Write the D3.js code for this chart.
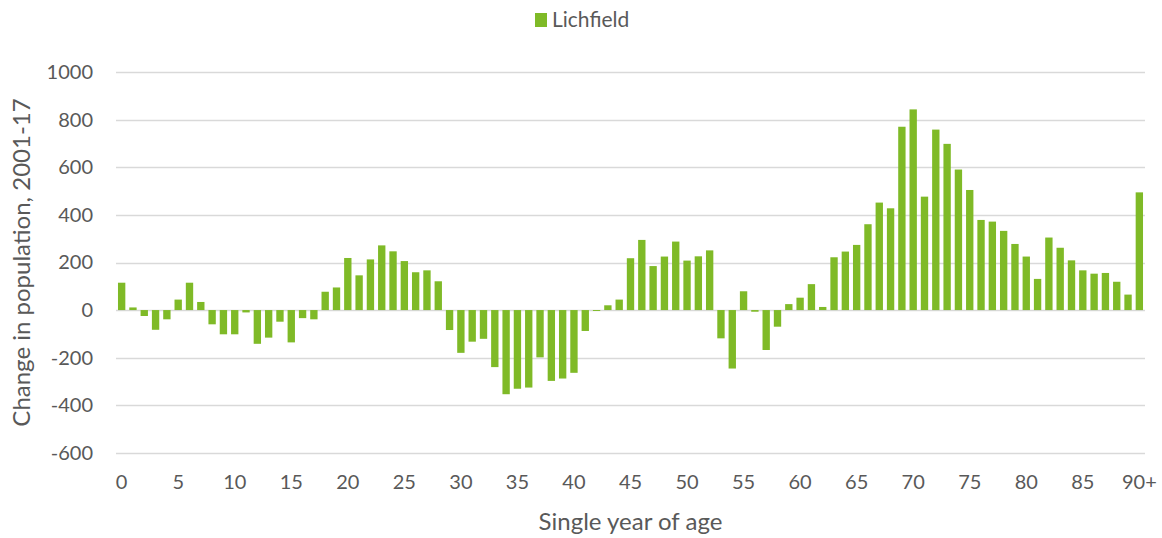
<!DOCTYPE html>
<html>
<head>
<meta charset="utf-8">
<script src="https://cdn.jsdelivr.net/npm/d3@7"></script>
<style>
  body { margin: 0; background: #fff; }
  text { font-family: Lato, "Open Sans", sans-serif; fill: #595959; }
</style>
</head>
<body>
<svg id="chart" width="1162" height="538"></svg>
<script>
// ages 0..89 then 90+
var ages = d3.range(0, 90).map(String).concat(["90+"]);
var values = [115, 11, -25, -83, -39, 44, 115, 34, -60, -102,
              -102, -10, -142, -116, -49, -136, -34, -39, 77, 95,
              219, 146, 213, 272, 247, 206, 159, 167, 121, -84,
              -180, -133, -121, -240, -354, -331, -326, -199, -298, -288,
              -264, -88, -4, 20, 44, 218, 295, 185, 225, 288,
              208, 226, 251, -119, -246, 79, -7, -168, -70, 25,
              52, 109, 13, 222, 246, 274, 361, 452, 428, 771,
              844, 477, 759, 699, 591, 505, 379, 372, 333, 278,
              225, 131, 305, 262, 209, 167, 153, 156, 119, 65,
              495];
var xTicks = ["0", "5", "10", "15", "20", "25", "30", "35", "40", "45",
              "50", "55", "60", "65", "70", "75", "80", "85", "90+"];
var yTicks = [-600, -400, -200, 0, 200, 400, 600, 800, 1000];
var seriesName = "Lichfield";

var svg = d3.select("#chart"),
    plotLeft = 116, plotRight = 1145, plotTop = 72.3, plotBottom = 452.7,
    colour = "#7fba27";

var x = d3.scaleBand()
          .domain(ages)
          .range([plotLeft, plotRight])
          .paddingInner(0.35)
          .paddingOuter(0.175);
var y = d3.scaleLinear()
          .domain([-600, 1000])
          .range([plotBottom, plotTop]);

//Gridlines
svg.append("g")
  .selectAll("line")
  .data(yTicks)
  .enter()
  .append("line")
  .attr("x1", plotLeft)
  .attr("x2", plotRight)
  .attr("y1", function(d) { return Math.round(y(d)) + 0.5; })
  .attr("y2", function(d) { return Math.round(y(d)) + 0.5; })
  .attr("stroke", "#d9d9d9")
  .attr("stroke-width", 1.3);

//Bars
svg.append("g")
  .selectAll("rect")
  .data(values)
  .enter()
  .append("rect")
  .attr("x", function(d, i) { return x(ages[i]); })
  .attr("width", x.bandwidth())
  .attr("y", function(d) { return y(Math.max(0, d)); })
  .attr("height", function(d) { return Math.abs(y(d) - y(0)); })
  .attr("fill", colour);

//Y axis labels (plain hyphen for negatives, like the original)
var yAxis = svg.append("g")
  .attr("transform", "translate(" + (plotLeft - 23) + ",0)")
  .call(d3.axisLeft(y).tickValues(yTicks).tickSize(0).tickPadding(0)
          .tickFormat(function(d) { return String(d); }));
yAxis.select(".domain").remove();
yAxis.selectAll("text")
  .style("font-size", "20px")
  .style("font-family", "Lato, 'Open Sans', sans-serif")
  .attr("fill", "#595959");

//X axis labels
var xAxis = svg.append("g")
  .attr("transform", "translate(0," + (plotBottom + 22) + ")")
  .call(d3.axisBottom(x).tickValues(xTicks).tickSize(0).tickPadding(0));
xAxis.select(".domain").remove();
xAxis.selectAll("text")
  .attr("dy", "0.71em")
  .style("font-size", "20px")
  .style("font-family", "Lato, 'Open Sans', sans-serif")
  .attr("fill", "#595959");

//Axis titles
svg.append("text")
  .attr("x", (plotLeft + plotRight) / 2)
  .attr("y", 530)
  .attr("text-anchor", "middle")
  .style("font-size", "24px")
  .text("Single year of age");
svg.append("text")
  .attr("transform", "translate(30," + ((plotTop + plotBottom) / 2) + ") rotate(-90)")
  .attr("text-anchor", "middle")
  .style("font-size", "24px")
  .text("Change in population, 2001-17");

//Legend
svg.append("rect")
  .attr("x", 535)
  .attr("y", 13)
  .attr("width", 12)
  .attr("height", 14)
  .attr("fill", colour);
svg.append("text")
  .attr("x", 552)
  .attr("y", 27)
  .style("font-size", "21px")
  .text(seriesName);
</script>
</body>
</html>
